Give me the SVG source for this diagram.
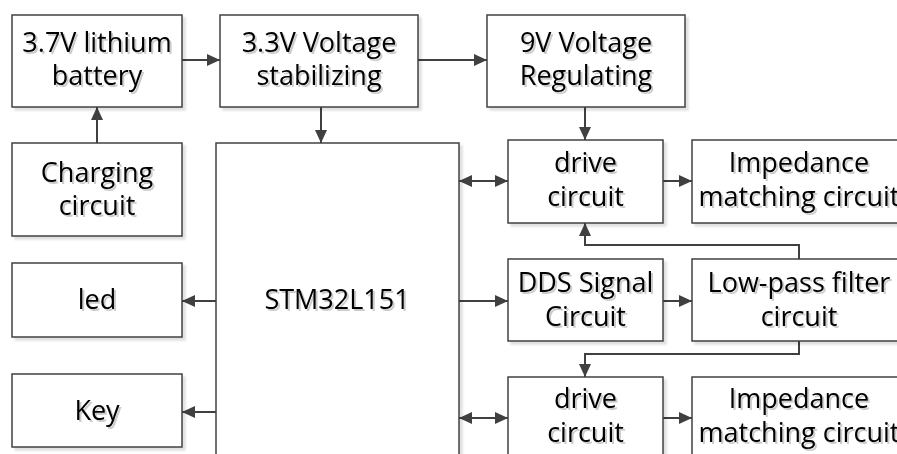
<svg xmlns="http://www.w3.org/2000/svg" width="897" height="454" viewBox="0 0 897 454">
<defs>
<style>
.box{fill:#ffffff;stroke:#404040;stroke-width:1.5;filter:url(#bs)}
.t{font-family:"Open Sans","Liberation Sans",sans-serif;font-size:27px;fill:#000;text-anchor:middle;filter:url(#ts)}
.c{fill:none;stroke:#404040;stroke-width:2}
</style>
<filter id="bs" x="-10%" y="-10%" width="120%" height="120%">
<feDropShadow dx="3" dy="3" stdDeviation="1" flood-color="#000" flood-opacity="0.12"/>
</filter>
<filter id="ts" x="-10%" y="-20%" width="120%" height="140%">
<feDropShadow dx="2" dy="2" stdDeviation="0.6" flood-color="#000" flood-opacity="0.2"/>
</filter>
<marker id="ah" markerUnits="userSpaceOnUse" markerWidth="14" markerHeight="13" refX="13" refY="6.5" orient="auto-start-reverse">
<path d="M0,0.5 L13,6.5 L0,12.5 z" fill="#404040"/>
</marker>
</defs>
<rect width="897" height="454" fill="#ffffff"/>
<g id="connectors">
<path class="c" d="M182,60 H220" marker-end="url(#ah)"/>
<path class="c" d="M418,60 H487" marker-end="url(#ah)"/>
<path class="c" d="M97,143 V107" marker-end="url(#ah)"/>
<path class="c" d="M321,107 V143" marker-end="url(#ah)"/>
<path class="c" d="M585,107 V140" marker-end="url(#ah)"/>
<path class="c" d="M459,181 H508" marker-start="url(#ah)" marker-end="url(#ah)"/>
<path class="c" d="M663,181 H692" marker-end="url(#ah)"/>
<path class="c" d="M216,301 H182" marker-end="url(#ah)"/>
<path class="c" d="M216,412 H182" marker-end="url(#ah)"/>
<path class="c" d="M459,301 H508" marker-end="url(#ah)"/>
<path class="c" d="M663,301 H692" marker-end="url(#ah)"/>
<path class="c" d="M799,259 V245 H585 V223" marker-end="url(#ah)"/>
<path class="c" d="M799,341 V354 H585 V377" marker-end="url(#ah)"/>
<path class="c" d="M459,418 H508" marker-start="url(#ah)" marker-end="url(#ah)"/>
<path class="c" d="M663,418 H692" marker-end="url(#ah)"/>
</g>
<g id="battery"><rect class="box" x="12" y="15" width="170" height="92"/><text class="t" x="97" y="52">3.7V lithium</text><text class="t" x="97" y="85">battery</text></g>
<g id="stabilizing"><rect class="box" x="220" y="15" width="198" height="92"/><text class="t" x="319" y="52">3.3V Voltage</text><text class="t" x="319" y="85">stabilizing</text></g>
<g id="regulating"><rect class="box" x="487" y="15" width="198" height="92"/><text class="t" x="586" y="52">9V Voltage</text><text class="t" x="586" y="85">Regulating</text></g>
<g id="charging"><rect class="box" x="12" y="143" width="170" height="93"/><text class="t" x="97" y="182">Charging</text><text class="t" x="97" y="215">circuit</text></g>
<g id="stm32"><rect class="box" x="216" y="143" width="243" height="330"/><text class="t" x="337" y="309">STM32L151</text></g>
<g id="led"><rect class="box" x="12" y="263" width="170" height="74"/><text class="t" x="97" y="309">led</text></g>
<g id="key"><rect class="box" x="12" y="374" width="170" height="73"/><text class="t" x="97" y="420">Key</text></g>
<g id="drive1"><rect class="box" x="508" y="140" width="155" height="83"/><text class="t" x="585.5" y="172">drive</text><text class="t" x="585.5" y="206">circuit</text></g>
<g id="impedance1"><rect class="box" x="692" y="140" width="215" height="83"/><text class="t" x="799" y="172">Impedance</text><text class="t" x="799" y="206">matching circuit</text></g>
<g id="dds"><rect class="box" x="508" y="259" width="155" height="82"/><text class="t" x="585.5" y="292">DDS Signal</text><text class="t" x="585.5" y="326">Circuit</text></g>
<g id="lowpass"><rect class="box" x="692" y="259" width="215" height="82"/><text class="t" x="799" y="292">Low-pass filter</text><text class="t" x="799" y="326">circuit</text></g>
<g id="drive2"><rect class="box" x="508" y="377" width="155" height="95"/><text class="t" x="585.5" y="408">drive</text><text class="t" x="585.5" y="442">circuit</text></g>
<g id="impedance2"><rect class="box" x="692" y="377" width="215" height="95"/><text class="t" x="799" y="408">Impedance</text><text class="t" x="799" y="442">matching circuit</text></g>
</svg>
